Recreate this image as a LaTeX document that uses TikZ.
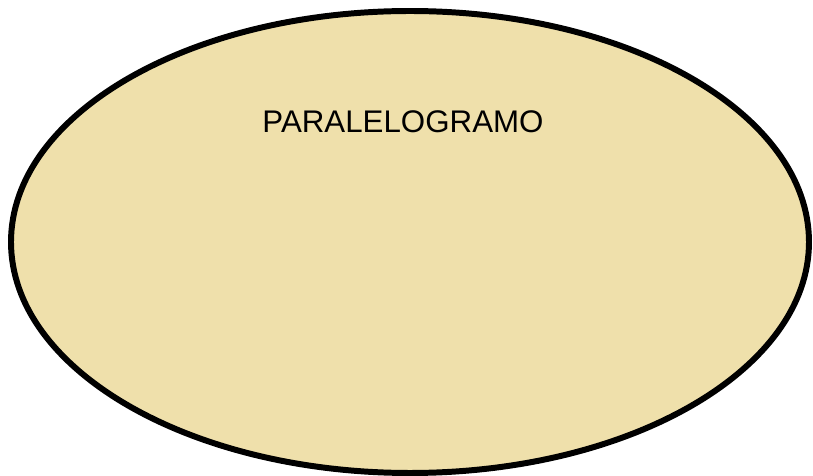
\documentclass[tikz,border=0pt]{standalone}
\usepackage{fontspec}
\setmainfont{Liberation Sans}
\usetikzlibrary{positioning,shapes.geometric}
\definecolor{figbeige}{HTML}{EFE0AB}
\tikzset{
  fg/elipse/.style={
    ellipse, draw=black, fill=figbeige, line width=1.7pt,
    inner sep=0pt, minimum width=7.98cm, minimum height=4.62cm
  },
  fg/rotulo/.style={
    inner sep=0pt, font=\fontsize{8.9}{10}\selectfont, text=black
  }
}
\begin{document}
\begin{tikzpicture}
  \useasboundingbox (0,0) rectangle (8.13,4.76);
  \node[fg/elipse] (forma) at (4.10,2.34) {};
  \node[fg/rotulo] (titulo) at (4.03,3.54) {PARALELOGRAMO};
\end{tikzpicture}
\end{document}
